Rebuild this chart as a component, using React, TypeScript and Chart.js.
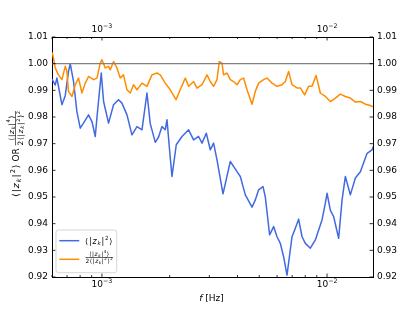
import React, { useEffect, useRef } from 'react';
import { Chart, registerables } from 'chart.js';

Chart.register(...registerables);

const FONT = 'DejaVu Sans';
const BLUE = '#4169E1';
const ORANGE = '#FF8C00';

// frequencies [Hz] and values
const blueFreq = [
  6.02e-4, 6.20e-4, 6.31e-4, 6.64e-4, 6.87e-4, 7.10e-4, 7.23e-4, 7.48e-4, 7.74e-4, 8.01e-4,
  8.28e-4, 8.72e-4, 9.03e-4, 9.34e-4, 9.50e-4, 9.93e-4, 1.017e-3, 1.070e-3, 1.126e-3, 1.185e-3,
  1.227e-3, 1.292e-3, 1.359e-3, 1.431e-3, 1.506e-3, 1.585e-3, 1.639e-3, 1.726e-3, 1.785e-3, 1.848e-3,
  1.911e-3, 1.945e-3, 1.997e-3, 2.047e-3, 2.139e-3, 2.268e-3, 2.427e-3, 2.554e-3, 2.688e-3, 2.783e-3,
  2.908e-3, 3.029e-3, 3.133e-3, 3.244e-3, 3.450e-3, 3.717e-3, 3.981e-3, 4.118e-3, 4.334e-3, 4.642e-3,
  4.801e-3, 4.966e-3, 5.195e-3, 5.318e-3, 5.558e-3, 5.790e-3, 5.995e-3, 6.200e-3, 6.413e-3, 6.640e-3,
  6.988e-3, 7.229e-3, 7.478e-3, 7.743e-3, 8.009e-3, 8.429e-3, 8.872e-3, 9.177e-3, 9.499e-3, 9.827e-3,
  1.000e-2, 1.034e-2, 1.070e-2, 1.126e-2, 1.166e-2, 1.206e-2, 1.269e-2, 1.336e-2, 1.406e-2, 1.506e-2,
  1.585e-2, 1.606e-2,
];
const blueVal = [
  0.9940, 0.9920, 0.9946, 0.9846, 0.9880, 0.9970, 1.0000, 0.9933, 0.9820, 0.9758,
  0.9777, 0.9808, 0.9783, 0.9727, 0.9797, 0.9965, 0.9858, 0.9777, 0.9846, 0.9865,
  0.9852, 0.9808, 0.9733, 0.9764, 0.9752, 0.9890, 0.9775, 0.9705, 0.9725, 0.9764,
  0.9752, 0.9790, 0.9677, 0.9577, 0.9696, 0.9727, 0.9752, 0.9714, 0.9727, 0.9702,
  0.9739, 0.9677, 0.9702, 0.9639, 0.9512, 0.9633, 0.9595, 0.9577, 0.9508, 0.9462,
  0.9489, 0.9527, 0.9539, 0.9500, 0.9358, 0.9389, 0.9351, 0.9326, 0.9276, 0.9207,
  0.9351, 0.9383, 0.9417, 0.9351, 0.9326, 0.9308, 0.9339, 0.9376, 0.9414, 0.9477,
  0.9514, 0.9451, 0.9426, 0.9345, 0.9489, 0.9577, 0.9508, 0.9571, 0.9595, 0.9664,
  0.9677, 0.9690,
];

const orangeFreq = [
  6.02e-4, 6.09e-4, 6.20e-4, 6.41e-4, 6.64e-4, 6.87e-4, 6.99e-4, 7.10e-4, 7.36e-4, 7.61e-4,
  7.87e-4, 8.15e-4, 8.43e-4, 8.72e-4, 9.18e-4, 9.50e-4, 9.83e-4, 1.000e-3, 1.034e-3, 1.070e-3,
  1.089e-3, 1.126e-3, 1.166e-3, 1.206e-3, 1.247e-3, 1.292e-3, 1.336e-3, 1.382e-3, 1.431e-3, 1.506e-3,
  1.585e-3, 1.668e-3, 1.756e-3, 1.816e-3, 1.911e-3, 2.012e-3, 2.133e-3, 2.228e-3, 2.345e-3, 2.427e-3,
  2.554e-3, 2.644e-3, 2.783e-3, 2.929e-3, 3.029e-3, 3.133e-3, 3.244e-3, 3.321e-3, 3.415e-3, 3.471e-3,
  3.594e-3, 3.717e-3, 3.845e-3, 3.981e-3, 4.118e-3, 4.259e-3, 4.410e-3, 4.642e-3, 4.801e-3, 4.966e-3,
  5.226e-3, 5.412e-3, 5.696e-3, 5.995e-3, 6.310e-3, 6.525e-3, 6.749e-3, 6.988e-3, 7.356e-3, 7.609e-3,
  7.950e-3, 8.282e-3, 8.577e-3, 8.935e-3, 9.337e-3, 9.827e-3, 1.034e-2, 1.089e-2, 1.146e-2, 1.206e-2,
  1.269e-2, 1.336e-2, 1.406e-2, 1.480e-2, 1.558e-2, 1.606e-2,
];
const orangeVal = [
  1.0040, 1.0021, 0.9984, 0.9958, 0.9940, 0.9990, 0.9971, 0.9896, 0.9877, 0.9921,
  0.9946, 0.9890, 0.9927, 0.9952, 0.9940, 0.9946, 1.0002, 1.0015, 0.9984, 0.9990,
  0.9977, 1.0008, 0.9984, 0.9946, 0.9958, 0.9902, 0.9890, 0.9921, 0.9902, 0.9927,
  0.9915, 0.9958, 0.9965, 0.9958, 0.9927, 0.9902, 0.9865, 0.9902, 0.9946, 0.9915,
  0.9933, 0.9908, 0.9921, 0.9958, 0.9933, 0.9915, 0.9940, 1.0008, 1.0002, 0.9958,
  0.9965, 0.9940, 0.9933, 0.9921, 0.9940, 0.9946, 0.9902, 0.9848, 0.9896, 0.9927,
  0.9940, 0.9946, 0.9927, 0.9915, 0.9921, 0.9933, 0.9971, 0.9921, 0.9909, 0.9909,
  0.9883, 0.9915, 0.9915, 0.9956, 0.9890, 0.9877, 0.9858, 0.9871, 0.9886, 0.9877,
  0.9871, 0.9856, 0.9858, 0.9848, 0.9843, 0.9838,
];

const refLevel = 1.0;
const xMin = 6.0e-4;
const xMax = 1.6e-2;
const yMin = 0.92;
const yMax = 1.01;
const yTicks = [0.92, 0.93, 0.94, 0.95, 0.96, 0.97, 0.98, 0.99, 1.0, 1.01];
const xMajor = [1e-3, 1e-2];
const xMajorExp = ['\u22123', '\u22122'];
const xMinor = [6e-4, 7e-4, 8e-4, 9e-4, 2e-3, 3e-3, 4e-3, 5e-3, 6e-3, 7e-3, 8e-3, 9e-3];

type Run = { t: string; s: number; dy?: number; it?: boolean };

function setFont(ctx: CanvasRenderingContext2D, r: Run) {
  ctx.font = `${r.it ? 'italic ' : ''}${r.s}px "${FONT}"`;
}
function runsWidth(ctx: CanvasRenderingContext2D, runs: Run[], gap = 0) {
  let w = 0;
  runs.forEach((r, i) => {
    setFont(ctx, r);
    w += ctx.measureText(r.t).width + (i < runs.length - 1 ? gap : 0);
  });
  return w;
}
function drawRuns(ctx: CanvasRenderingContext2D, x: number, y: number, runs: Run[], gap = 0) {
  let cx = x;
  ctx.textBaseline = 'alphabetic';
  ctx.textAlign = 'left';
  runs.forEach((r, i) => {
    setFont(ctx, r);
    ctx.fillText(r.t, cx, y + (r.dy || 0));
    cx += ctx.measureText(r.t).width + (i < runs.length - 1 ? gap : 0);
  });
  return cx - x;
}
function zRuns(B: number, pw: string): Run[] {
  return [
    { t: '\u27E8', s: B },
    { t: '|', s: B },
    { t: 'z', s: B, it: true },
    { t: 'k', s: B * 0.7, dy: B * 0.22, it: true },
    { t: '|', s: B },
    { t: pw, s: B * 0.7, dy: -B * 0.42 },
    { t: '\u27E9', s: B },
  ];
}
function numRuns(b: number): Run[] { return zRuns(b, '4'); }
function denRuns(b: number): Run[] {
  return [{ t: '2', s: b }, ...zRuns(b, '2'), { t: '2', s: b * 0.7, dy: -b * 0.42 }];
}
function drawFraction(ctx: CanvasRenderingContext2D, x: number, barY: number, b: number) {
  const g = b * 0.1;
  const nr = numRuns(b);
  const dr = denRuns(b);
  const nw = runsWidth(ctx, nr, g);
  const dw = runsWidth(ctx, dr, g);
  const w = Math.max(nw, dw);
  drawRuns(ctx, x + (w - nw) / 2, barY - b * 0.3, nr, g);
  drawRuns(ctx, x + (w - dw) / 2, barY + b * 0.95, dr, g);
  ctx.fillRect(x, barY - 0.3, w, 0.6);
  return w;
}
function fractionWidth(ctx: CanvasRenderingContext2D, b: number) {
  const g = b * 0.1;
  return Math.max(runsWidth(ctx, numRuns(b), g), runsWidth(ctx, denRuns(b), g));
}

const decorPlugin = {
  id: 'decor',
  afterDraw(chart: any) {
    const ctx: CanvasRenderingContext2D = chart.ctx;
    const { left, right, top, bottom } = chart.chartArea;
    const xs = chart.scales.x;
    const ys = chart.scales.y;
    ctx.save();
    ctx.strokeStyle = '#000';
    ctx.fillStyle = '#000';
    ctx.lineWidth = 0.8;
    ctx.beginPath();
    for (const v of xMinor) {
      const px = xs.getPixelForValue(v);
      ctx.moveTo(px, bottom); ctx.lineTo(px, bottom - 2);
      ctx.moveTo(px, top); ctx.lineTo(px, top + 2);
    }
    for (const v of xMajor) {
      const px = xs.getPixelForValue(v);
      ctx.moveTo(px, bottom); ctx.lineTo(px, bottom - 3.5);
      ctx.moveTo(px, top); ctx.lineTo(px, top + 3.5);
    }
    for (const v of yTicks) {
      const py = ys.getPixelForValue(v);
      ctx.moveTo(left, py); ctx.lineTo(left + 3.5, py);
      ctx.moveTo(right, py); ctx.lineTo(right - 3.5, py);
    }
    ctx.stroke();

    // x tick labels (10^n), bottom and top
    xMajor.forEach((v, i) => {
      const px = xs.getPixelForValue(v);
      const runs: Run[] = [{ t: '10', s: 9 }, { t: xMajorExp[i], s: 6.3, dy: -3.6 }];
      const w = runsWidth(ctx, runs);
      drawRuns(ctx, px - w / 2, bottom + 10, runs);
      drawRuns(ctx, px - w / 2, top - 5.5, runs);
    });

    // x axis title
    const xt: Run[] = [{ t: 'f', s: 9, it: true }, { t: ' [Hz]', s: 9 }];
    const xw = runsWidth(ctx, xt);
    drawRuns(ctx, (left + right) / 2 - xw / 2 - 1, 300.5, xt);

    // y axis title (rotated)
    ctx.save();
    ctx.translate(19, (top + bottom) / 2 - 3);
    ctx.rotate(-Math.PI / 2);
    const B = 9.5;
    const main = zRuns(B, '2');
    const orRun: Run[] = [{ t: ' OR ', s: 9 }];
    const fb = 7.3;
    const fracW = fractionWidth(ctx, fb);
    const total = runsWidth(ctx, main, B * 0.1) + runsWidth(ctx, orRun) + fracW;
    let cx = -total / 2;
    cx += drawRuns(ctx, cx, 0, main, B * 0.1);
    cx += drawRuns(ctx, cx, 0, orRun);
    drawFraction(ctx, cx, -3.3, fb);
    ctx.restore();

    // legend
    const lx = 56, ly = 230, lw = 60.7, lh = 42.7;
    ctx.beginPath();
    (ctx as any).roundRect ? (ctx as any).roundRect(lx, ly, lw, lh, 2.5) : ctx.rect(lx, ly, lw, lh);
    ctx.fillStyle = 'rgba(255,255,255,0.8)';
    ctx.fill();
    ctx.strokeStyle = '#cccccc';
    ctx.lineWidth = 0.8;
    ctx.stroke();
    ctx.lineWidth = 1.5;
    ctx.strokeStyle = BLUE;
    ctx.beginPath(); ctx.moveTo(59.3, 240.7); ctx.lineTo(79.3, 240.7); ctx.stroke();
    ctx.strokeStyle = ORANGE;
    ctx.beginPath(); ctx.moveTo(59.3, 259.3); ctx.lineTo(79.3, 259.3); ctx.stroke();
    ctx.fillStyle = '#000';
    drawRuns(ctx, 85, 243.5, zRuns(8, '2'), 0.8);
    drawFraction(ctx, 85.5, 257.3, 5.8);
    ctx.restore();
  },
};

export default function App() {
  const ref = useRef<HTMLCanvasElement>(null);
  useEffect(() => {
    const canvas = ref.current!;
    Chart.defaults.font.family = FONT;
    const axisCommon = {
      grid: { display: false, drawTicks: false },
      border: { display: true, color: '#000', width: 1 },
    };
    const chart = new Chart(canvas, {
      type: 'line',
      data: {
        datasets: [
          {
            label: 'ref',
            data: [{ x: xMin, y: refLevel }, { x: xMax, y: refLevel }],
            borderColor: '#808080', borderWidth: 1.2, pointRadius: 0, order: 0,
            xAxisID: 'x', yAxisID: 'y',
          },
          {
            label: 'ratio',
            data: orangeFreq.map((f, i) => ({ x: f, y: orangeVal[i] })),
            borderColor: ORANGE, borderWidth: 1.5, pointRadius: 0, order: 1,
            borderJoinStyle: 'round', borderCapStyle: 'round',
            xAxisID: 'x', yAxisID: 'y',
          },
          {
            label: 'mean',
            data: blueFreq.map((f, i) => ({ x: f, y: blueVal[i] })),
            borderColor: BLUE, borderWidth: 1.5, pointRadius: 0, order: 2,
            borderJoinStyle: 'round', borderCapStyle: 'round',
            xAxisID: 'x', yAxisID: 'y',
          },
        ],
      } as any,
      options: {
        responsive: false,
        animation: false,
        events: [],
        layout: { padding: 0 },
        plugins: { legend: { display: false }, tooltip: { enabled: false } },
        scales: {
          x: {
            type: 'logarithmic', position: 'bottom', min: xMin, max: xMax,
            ...axisCommon, ticks: { display: false },
            afterFit: (s: any) => { s.height = 34; },
          },
          x2: {
            type: 'logarithmic', position: 'top', min: xMin, max: xMax,
            ...axisCommon, ticks: { display: false },
            afterFit: (s: any) => { s.height = 37; },
          },
          y: {
            type: 'linear', position: 'left', min: yMin, max: yMax,
            ...axisCommon,
            ticks: { padding: 4, color: '#000', font: { size: 9, family: FONT }, autoSkip: false,
              callback: (v: any) => Number(v).toFixed(2) },
            afterBuildTicks: (s: any) => { s.ticks = yTicks.map((v) => ({ value: v })); },
            afterFit: (s: any) => { s.width = 52; },
          },
          y2: {
            type: 'linear', position: 'right', min: yMin, max: yMax,
            ...axisCommon,
            ticks: { padding: 4, color: '#000', font: { size: 9, family: FONT }, autoSkip: false,
              callback: (v: any) => Number(v).toFixed(2) },
            afterBuildTicks: (s: any) => { s.ticks = yTicks.map((v) => ({ value: v })); },
            afterFit: (s: any) => { s.width = 42; },
          },
        },
      } as any,
      plugins: [decorPlugin],
    });
    return () => chart.destroy();
  }, []);
  return (
    <div style={{ position: 'fixed', left: 0, top: 0, width: 415, height: 311, background: '#fff' }}>
      <canvas ref={ref} width={415} height={311} style={{ display: 'block' }} />
    </div>
  );
}
